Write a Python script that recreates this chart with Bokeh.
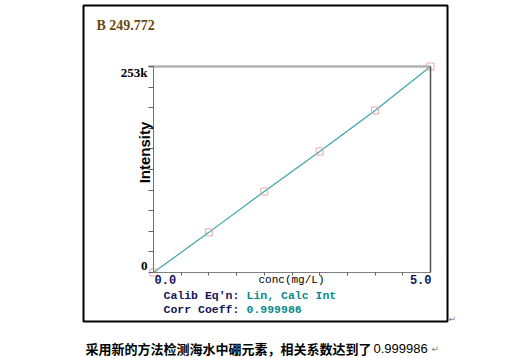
import math
from bokeh.plotting import figure
from bokeh.models import Range1d, LinearAxis, FixedTicker, Label, BoxAnnotation
from bokeh.embed import file_html
from bokeh.resources import INLINE

# ---- data ----
conc = [0, 1, 2, 3, 4, 5]                       # mg/L
intensity = [0, 49300, 99500, 148700, 199000, 253000]
x_min, x_max = 0.0, 5.0
y_min, y_max = 0, 253000
y_tick_labels = ["0", "253k"]
x_tick_labels = ["0.0", "5.0"]
x_title = "conc(mg/L)"
y_title = "Intensity"
element_label = "B 249.772"
calib_eq = "Lin, Calc Int"
corr_coeff = "0.999986"
caption_cn = "采用新的方法检测海水中硼元素，相关系数达到了"

# ---- layout (pixels) ----
W, H = 527, 358
FL, FT = 40, 2
FR, FB = W, H
PX_X0, PX_X1 = 153.0, 430.0
PX_Y0, PX_Y1 = 272.0, 66.0
kx = (x_max - x_min) / (PX_X1 - PX_X0)
ky = (y_max - y_min) / (PX_Y0 - PX_Y1)

def dx(px):
    return x_min + (px - PX_X0) * kx

def dy(py):
    return y_min + (PX_Y0 - py) * ky

p = figure(width=W, height=H,
           x_range=Range1d(dx(FL), dx(FR)), y_range=Range1d(dy(FB), dy(FT)),
           output_backend="svg", toolbar_location=None,
           x_axis_type=None, y_axis_type=None,
           min_border_left=FL, min_border_right=0, min_border_top=FT, min_border_bottom=0)
p.grid.visible = False
p.outline_line_color = None
p.background_fill_color = "white"
p.border_fill_color = "white"

# ---- axes, fixed inside the frame ----
xstep = 0.5
ystep = (y_max - y_min) / 10
xticks = [x_min + xstep * i for i in range(1, 10)]
yticks = [y_min + ystep * i for i in range(0, 11)]

def bare(ax):
    ax.major_label_standoff = 0
    ax.major_label_text_font_size = "0px"
    ax.minor_tick_line_color = None
    return ax

ly = bare(LinearAxis(ticker=FixedTicker(ticks=yticks), fixed_location=x_min, bounds=(y_min, y_max)))
ly.axis_line_color = "#707070"
ly.major_tick_line_color = "#606060"
ly.major_tick_in, ly.major_tick_out = 0, 5
ly.major_label_overrides = {t: "" for t in yticks}
p.add_layout(ly, "left")

ra = bare(LinearAxis(ticker=FixedTicker(ticks=[]), fixed_location=x_max, bounds=(y_min, y_max)))
ra.axis_line_color = "#505050"
ra.axis_line_width = 1.5
ra.major_tick_line_color = None
p.add_layout(ra, "left")

bx = bare(LinearAxis(ticker=FixedTicker(ticks=xticks), fixed_location=y_min, bounds=(x_min, x_max)))
bx.axis_line_color = "#808080"
bx.major_tick_line_color = "#606060"
bx.major_tick_in, bx.major_tick_out = 3, 0
bx.major_label_overrides = {t: "" for t in xticks}
p.add_layout(bx, "above")

ta = bare(LinearAxis(ticker=FixedTicker(ticks=[]), fixed_location=y_max,
                     bounds=(x_min - 5 * kx, x_max)))
ta.axis_line_color = "#b4b4b4"
ta.axis_line_width = 2.5
ta.major_tick_line_color = None
p.add_layout(ta, "above")

# ---- data ----
p.line(conc, intensity, line_color="#3aa6a6", line_width=1.2)
p.scatter(conc, intensity, marker="square", size=7, fill_color=None,
          line_color="#e6a8a8", line_width=1)

# ---- outer box ----
p.add_layout(BoxAnnotation(left=dx(83), right=dx(447), top=dy(5), bottom=dy(321),
                           fill_color=None, line_color="black", line_alpha=1.0, line_width=2))

mono = "Liberation Mono"
navy = "#14145a"
teal = "#0a8a8a"

def lab(px, py, text, align="left", font=mono, size="11.5px", style="bold", color=navy, angle=0.0):
    p.add_layout(Label(x=dx(px), y=dy(py), text=text, text_align=align, text_baseline="middle",
                       text_font=font, text_font_size=size, text_font_style=style,
                       text_color=color, angle=angle))

lab(96, 25, element_label, font="Liberation Serif", size="14px", color="#6b4a10")
lab(147, 72, y_tick_labels[1], align="right", font="Liberation Serif", size="13px", color="black")
lab(147, 265, y_tick_labels[0], align="right", font="Liberation Serif", size="13px", color="black")
lab(143.5, 152, y_title, align="center", font="Liberation Sans", size="15px", color="black",
    angle=math.pi / 2)
lab(154, 279, x_tick_labels[0], size="12px")
lab(431, 279, x_tick_labels[1], align="right", size="12px")
lab(258, 279, x_title, size="11px", style="normal", color="black")
lab(163, 295, "Calib Eq'n:")
lab(246, 295, calib_eq, color=teal)
lab(163, 309, "Corr Coeff:")
lab(246, 309, corr_coeff, color=teal)

lab(85, 347.5, caption_cn, font="Noto Sans CJK SC", size="13px", color="black")
lab(373, 348, corr_coeff, font="Liberation Sans", size="13px", style="normal", color="black")
lab(431, 348, "\u21b5", font="DejaVu Sans", size="9px", style="normal", color="#808080")
lab(448, 318, "\u21b5", font="DejaVu Sans", size="9px", style="normal", color="#808080")

open("out.html", "w").write(file_html(p, INLINE))
